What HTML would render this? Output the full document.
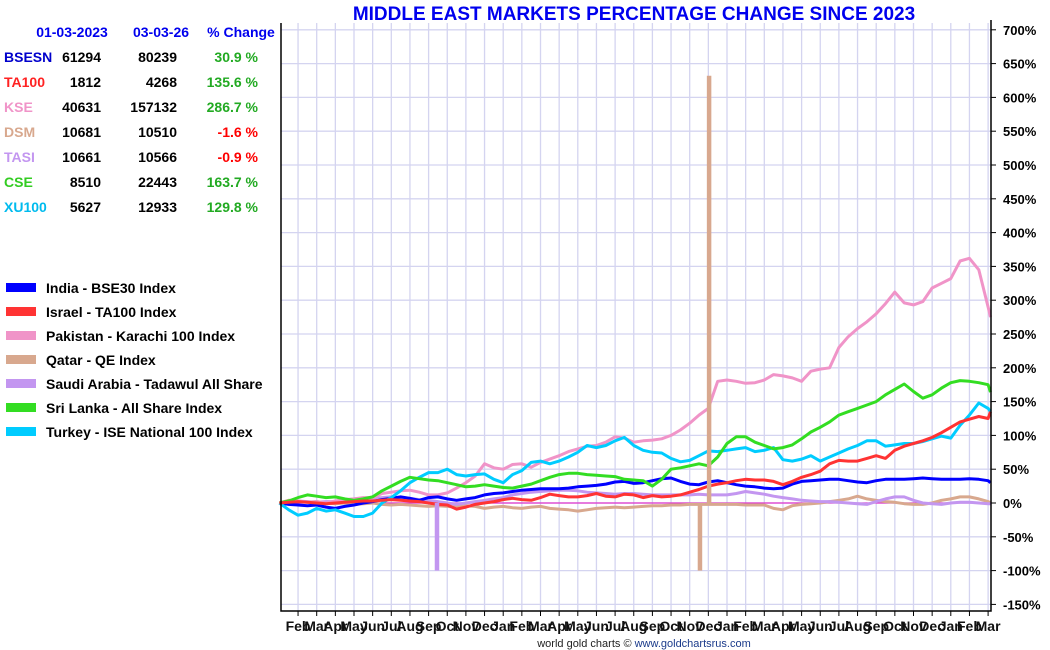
<!DOCTYPE html>
<html><head><meta charset="utf-8"><style>
body{margin:0;background:#fff;width:1050px;height:650px;overflow:hidden;font-family:"Liberation Sans",sans-serif}
svg{position:absolute;left:0;top:0}
</style></head><body>
<svg id="chart" width="1050" height="650" font-family="Liberation Sans, sans-serif">
<g id="grid"></g>
<g id="series"></g>
<g id="axes"></g>
<text x="634" y="20" text-anchor="middle" font-size="19" font-weight="bold" fill="#0000ee">MIDDLE EAST MARKETS PERCENTAGE CHANGE SINCE 2023</text>
<g id="table" font-size="14" font-weight="bold"></g>
<g id="legend" font-size="14" font-weight="bold"></g>
<text x="644" y="647" text-anchor="middle" font-size="11"><tspan fill="#222">world gold charts © </tspan><tspan fill="#1a3a8a">www.goldchartsrus.com</tspan></text>
</svg>
<script>
const monthLabels=["Feb","Mar","Apr","May","Jun","Jul","Aug","Sep","Oct","Nov","Dec","Jan","Feb","Mar","Apr","May","Jun","Jul","Aug","Sep","Oct","Nov","Dec","Jan","Feb","Mar","Apr","May","Jun","Jul","Aug","Sep","Oct","Nov","Dec","Jan","Feb","Mar"];
const yTicks=[700,650,600,550,500,450,400,350,300,250,200,150,100,50,0,-50,-100,-150];
const bse=[0,-2,-3,-4,-3,-6,-8,-5,-3,0,2,5,7,9,7,4,8,9,6,4,6,8,12,14,15,17,19,20,21,21,21,22,24,25,26,28,31,32,29,30,33,36,37,32,28,27,31,33,30,27,25,24,22,21,22,28,32,33,34,35,35,33,31,30,33,35,35,35,36,37,36,35,35,35,36,35,33,30];
const ta100=[0,1,2,1,0,-1,0,1,2,3,3,4,5,4,3,2,0,-2,-3,-9,-6,-2,0,2,5,7,5,4,8,13,11,9,9,11,14,10,9,13,12,8,11,9,10,12,16,20,25,28,30,33,35,34,34,32,27,32,38,42,47,58,63,62,62,66,70,66,78,84,88,92,97,104,112,120,124,128,125,135];
const kse=[0,2,3,1,2,0,3,5,6,8,8,14,16,18,19,16,12,12,15,22,30,40,58,52,50,57,58,53,60,65,70,76,80,84,85,90,98,96,90,92,93,95,100,108,118,130,140,180,182,180,177,178,182,190,188,185,180,195,198,200,230,246,258,268,280,295,312,296,293,298,318,325,332,358,362,345,290,275];
const dsm=[0,4,3,1,2,0,-1,0,-2,-1,0,-2,-3,-2,-3,-4,-5,-4,-5,-6,-4,-5,-8,-6,-5,-7,-8,-6,-5,-8,-9,-10,-12,-10,-8,-7,-6,-7,-6,-5,-4,-4,-3,-3,-2,-2,-2,-2,-2,-2,-3,-3,-3,-8,-10,-4,-2,-1,0,2,4,6,10,6,4,2,1,-1,-2,-2,0,4,6,9,9,6,2,0];
const tasi=[0,2,3,2,1,2,2,4,6,7,7,8,9,8,7,5,4,2,0,-2,0,2,4,6,8,12,14,16,17,18,19,19,18,16,15,14,13,14,14,13,12,12,12,12,12,13,12,12,12,14,17,15,13,10,8,6,4,3,2,2,1,0,-1,-2,2,6,9,9,4,0,-1,-2,0,1,1,0,-1,-1];
const cse=[0,3,8,12,10,8,9,6,4,6,9,18,25,32,38,36,34,33,30,27,24,25,27,25,23,22,25,28,33,38,42,44,44,42,41,40,39,35,34,33,25,35,50,52,55,58,55,68,88,98,98,90,85,80,82,86,95,105,112,120,130,135,140,145,150,160,168,176,165,155,160,170,178,181,180,178,175,164];
const xu100=[0,-10,-18,-15,-8,-12,-10,-15,-20,-20,-15,0,8,18,30,38,45,45,50,42,40,42,43,35,30,42,48,60,62,58,62,68,75,85,82,85,92,97,85,78,75,74,66,61,63,70,77,76,78,80,82,76,78,82,64,62,65,70,62,68,74,80,85,92,92,84,86,88,88,91,95,99,96,115,130,148,140,135];
const times=[];for(let i=0;i<=76;i++)times.push(i/2);times.push(38.13);
const spikeTimes=[8.45,22.55,23.04];
const spikeValues=[-100,-100,632];
const spikeSeries=["tasi","dsm","dsm"];

const X0=279.4,PXM=18.65,Y0=503,PXP=33.8/50;
const xs=m=>X0+m*PXM, ys=v=>Y0-v*PXP;
const NS="http://www.w3.org/2000/svg";
function mk(tag,parent,attrs){const e=document.createElementNS(NS,tag);for(const k in attrs)e.setAttribute(k,attrs[k]);parent.appendChild(e);return e;}
const grid=document.getElementById('grid'),axes=document.getElementById('axes'),ser=document.getElementById('series');
const L=281,R=991,T=23,B=611;
yTicks.forEach(v=>{const y=ys(v);
 const g=mk('line',grid,{x1:L,x2:R,y1:y,y2:y,stroke:'#d4d4f0','stroke-width':1.3});
 
 const t=mk('line',axes,{x1:R,x2:R+5,y1:y,y2:y,stroke:'#000','stroke-width':1});
 
 const tx=mk('text',axes,{x:R+12,y:y+5,'font-size':13,'font-weight':'bold',fill:'#000'});tx.textContent=v+'%';
 });
monthLabels.forEach((lab,i)=>{const x=xs(i+1);
 const g=mk('line',grid,{x1:x,x2:x,y1:T,y2:B,stroke:'#d4d4f0','stroke-width':1.3});
 
 const t=mk('line',axes,{x1:x,x2:x,y1:B,y2:B+5,stroke:'#000','stroke-width':1});
 
 const tx=mk('text',axes,{x:x,y:631,'text-anchor':'middle','font-size':14,'font-weight':'bold',fill:'#111'});tx.textContent=lab;
 });
const fr=mk('polyline',axes,{points:`${L},${T} ${L},${B} ${R},${B} ${R},${T-3}`,fill:'none',stroke:'#000','stroke-width':1.5});

const z=mk('line',grid,{x1:L,x2:R,y1:ys(0),y2:ys(0),stroke:'#dd33cc','stroke-width':1.2});


const colors={bse:'#0000ff',ta100:'#ff3333',kse:'#f094c8',dsm:'#d8a88e',tasi:'#c396f0',cse:'#33dd22',xu100:'#00ccff'};
const seriesData={dsm,tasi,kse,bse,xu100,cse,ta100};
Object.keys(seriesData).forEach(k=>{
 const pts=seriesData[k].map((v,i)=>xs(times[i]).toFixed(1)+','+ys(v).toFixed(1)).join(' ');
 const p=mk('polyline',ser,{points:pts,fill:'none',stroke:colors[k],'stroke-width':3,'stroke-linejoin':'round'});
 });
spikeTimes.forEach((t,i)=>{
 const p=mk('line',ser,{x1:xs(t),x2:xs(t),y1:ys(0),y2:ys(spikeValues[i]),stroke:colors[spikeSeries[i]],'stroke-width':4.5});
 });

const tbl=document.getElementById('table');
const hdr=[["01-03-2023",72],["03-03-26",161],["% Change",241]];
hdr.forEach(h=>{const t=mk('text',tbl,{x:h[1],y:37,'text-anchor':'middle',fill:'#0000ee'});t.textContent=h[0];
 });
const codes=["BSESN","TA100","KSE","DSM","TASI","CSE","XU100"];
const startVals=["61294","1812","40631","10681","10661","8510","5627"];
const endVals=["80239","4268","157132","10510","10566","22443","12933"];
const pctVals=["30.9 %","135.6 %","286.7 %","-1.6 %","-0.9 %","163.7 %","129.8 %"];
const codeColors=['#0000cc','#ff2222','#f094c8','#d8a88e','#c396f0','#33cc22','#00bbee'];
codes.forEach((c,i)=>{const y=62+i*25;
 const a=mk('text',tbl,{x:4,y:y,fill:codeColors[i]});a.textContent=c;
 const b=mk('text',tbl,{x:101,y:y,'text-anchor':'end',fill:'#000'});b.textContent=startVals[i];
 const d=mk('text',tbl,{x:177,y:y,'text-anchor':'end',fill:'#000'});d.textContent=endVals[i];
 const e=mk('text',tbl,{x:258,y:y,'text-anchor':'end',fill:pctVals[i].startsWith('-')?'#ff0000':'#22aa22'});e.textContent=pctVals[i];});

const leg=document.getElementById('legend');
const legNames=["India - BSE30 Index","Israel - TA100 Index","Pakistan - Karachi 100 Index","Qatar - QE Index","Saudi Arabia - Tadawul All Share","Sri Lanka - All Share Index","Turkey - ISE National 100 Index"];
const legKeys=["bse","ta100","kse","dsm","tasi","cse","xu100"];
legNames.forEach((n,i)=>{const y=288+i*24;
 const r=mk('rect',leg,{x:6,y:y-5,width:30,height:9,fill:colors[legKeys[i]]});
 const t=mk('text',leg,{x:46,y:y+5,fill:'#000'});t.textContent=n;});
</script>
</body></html>
